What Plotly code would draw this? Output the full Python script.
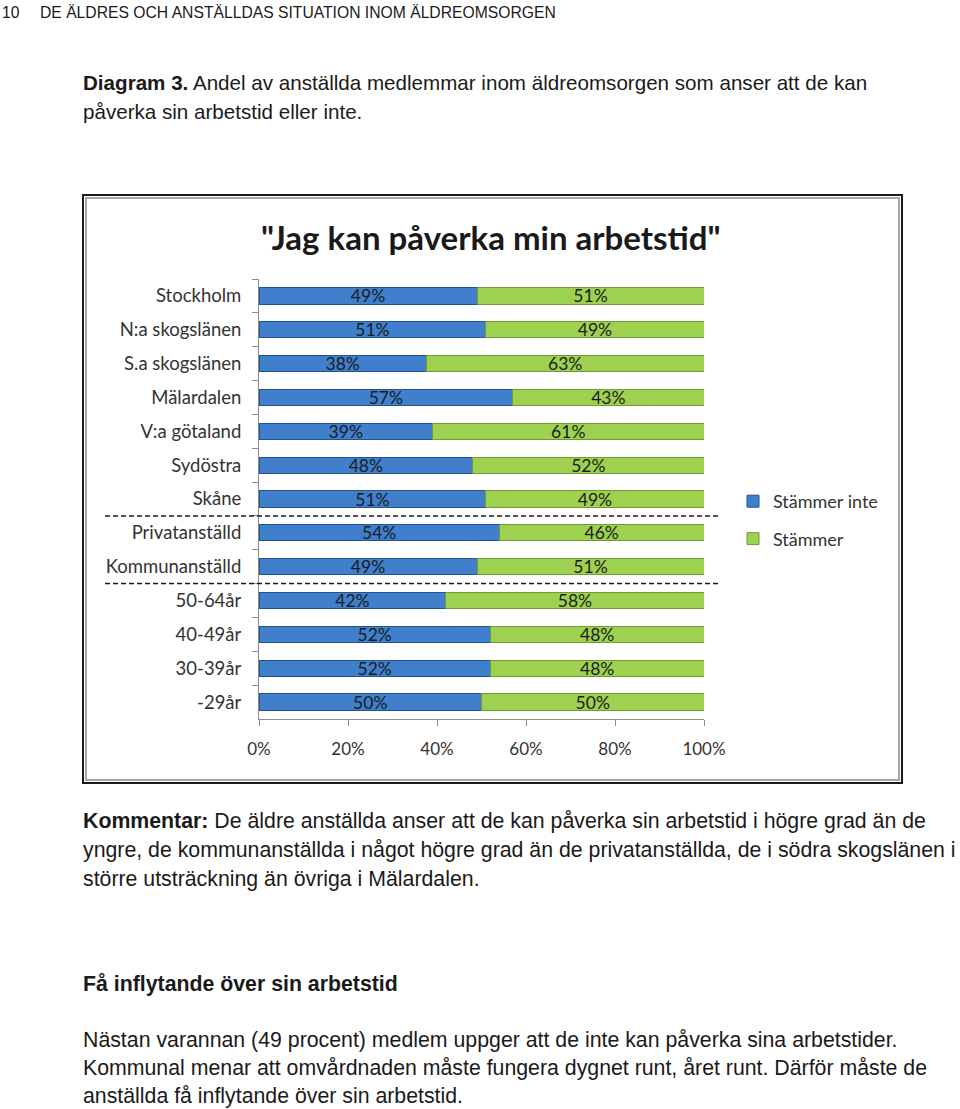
import plotly.graph_objects as go

categories = ["Stockholm", "N:a skogslänen", "S.a skogslänen", "Mälardalen", "V:a götaland",
              "Sydöstra", "Skåne", "Privatanställd", "Kommunanställd", "50-64år",
              "40-49år", "30-39år", "-29år"]
stammer_inte = [49, 51, 38, 57, 39, 48, 51, 54, 49, 42, 52, 52, 50]
stammer = [51, 49, 63, 43, 61, 52, 49, 46, 51, 58, 48, 48, 50]
x_ticks = [0, 20, 40, 60, 80, 100]
x_tick_labels = ["0%", "20%", "40%", "60%", "80%", "100%"]

W, H = 960, 1109
CHART_FONT = "Lato, Carlito, Calibri, sans-serif"
PAGE_FONT = "Liberation Sans, Arial, Helvetica, sans-serif"


def px(x):
    return x / W


def py(y):
    return 1 - y / H


fig = go.Figure()
fig.add_trace(go.Bar(
    y=categories, x=stammer_inte, orientation="h", name="Stämmer inte",
    legendgroup="a",
    marker=dict(color="#3f7fcb", line=dict(color="#24548c", width=1)),
    text=[f"{v}%" for v in stammer_inte], textposition="inside",
    insidetextanchor="middle", constraintext="none",
    textfont=dict(family=CHART_FONT, size=17.5, color="#1c1c1c"),
    cliponaxis=False,
))
fig.add_trace(go.Bar(
    y=categories, x=stammer, orientation="h", name="Stämmer",
    legendgroup="b",
    marker=dict(color="#9ed150", line=dict(color="#6f9a34", width=1)),
    text=[f"{v}%" for v in stammer], textposition="inside",
    insidetextanchor="middle", constraintext="none",
    textfont=dict(family=CHART_FONT, size=17.5, color="#1c1c1c"),
    cliponaxis=False,
))

fig.update_layout(
    width=W, height=H,
    margin=dict(l=0, r=0, t=0, b=0, pad=0, autoexpand=False),
    paper_bgcolor="white", plot_bgcolor="white",
    barmode="stack", barnorm="percent", bargap=0.52,
    showlegend=True,
    legend=dict(
        x=px(733), y=py(483), xanchor="left", yanchor="top",
        traceorder="grouped", tracegroupgap=11,
        font=dict(family=CHART_FONT, size=18, color="#333333"),
        bgcolor="rgba(0,0,0,0)",
    ),
    font=dict(family=CHART_FONT, color="#333333"),
    xaxis=dict(
        domain=[px(259), px(704)], range=[0, 100], automargin=False,
        tickvals=x_ticks, ticktext=x_tick_labels,
        showgrid=False, zeroline=False,
        showline=True, linecolor="#8c8c8c", linewidth=1,
        ticks="outside", ticklen=6, tickcolor="#8c8c8c",
        ticklabelstandoff=9,
        tickfont=dict(family=CHART_FONT, size=17, color="#333333"),
    ),
    yaxis=dict(
        domain=[py(719), py(279)], automargin=False,
        categoryorder="array", categoryarray=categories,
        autorange="reversed",
        showgrid=False, zeroline=False,
        showline=True, linecolor="#8c8c8c", linewidth=1,
        ticks="outside", ticklen=6, tickcolor="#8c8c8c", tickson="boundaries",
        ticklabelstandoff=13,
        tickfont=dict(family=CHART_FONT, size=18.5, color="#333333"),
    ),
)

shapes = [
    # chart frame
    dict(type="rect", xref="paper", yref="paper", x0=px(83), x1=px(902), y0=py(783), y1=py(195),
         line=dict(color="#1a1a1a", width=2), fillcolor="rgba(0,0,0,0)", layer="below"),
    dict(type="rect", xref="paper", yref="paper", x0=px(86), x1=px(899), y0=py(780), y1=py(198),
         line=dict(color="#a6a6a6", width=2), fillcolor="rgba(0,0,0,0)", layer="below"),
    # group separators
    dict(type="line", xref="paper", yref="y", x0=px(105), x1=px(718), y0=6.5, y1=6.5,
         line=dict(color="#1a1a1a", width=1.5, dash="5px,3px")),
    dict(type="line", xref="paper", yref="y", x0=px(105), x1=px(718), y0=8.5, y1=8.5,
         line=dict(color="#1a1a1a", width=1.5, dash="5px,3px")),
]
fig.update_layout(shapes=shapes)

BODY = dict(family=PAGE_FONT, size=21.3, color="#1a1a1a")
annotations = [
    dict(text="<b>\"Jag kan påverka min arbetstid\"</b>", x=px(491), y=py(237),
         font=dict(family=CHART_FONT, size=33, color="#1a1a1a"), xanchor="center"),
    dict(text="10", x=px(0), y=py(12), font=dict(family=PAGE_FONT, size=15.7, color="#1a1a1a")),
    dict(text="DE ÄLDRES OCH ANSTÄLLDAS SITUATION INOM ÄLDREOMSORGEN", x=px(38), y=py(12),
         font=dict(family=PAGE_FONT, size=15.7, color="#1a1a1a")),
    dict(text="<b>Diagram 3.</b> Andel av anställda medlemmar inom äldreomsorgen som anser att de kan",
         x=px(81), y=py(83), font=dict(family=PAGE_FONT, size=20.6, color="#1a1a1a")),
    dict(text="påverka sin arbetstid eller inte.", x=px(81), y=py(112),
         font=dict(family=PAGE_FONT, size=20.6, color="#1a1a1a")),
    dict(text="<b>Kommentar:</b> De äldre anställda anser att de kan påverka sin arbetstid i högre grad än de",
         x=px(81), y=py(821), font=BODY),
    dict(text="yngre, de kommunanställda i något högre grad än de privatanställda, de i södra skogslänen i",
         x=px(81), y=py(850), font=BODY),
    dict(text="större utsträckning än övriga i Mälardalen.",
         x=px(81), y=py(879), font=BODY),
    dict(text="<b>Få inflytande över sin arbetstid</b>",
         x=px(81), y=py(984), font=BODY),
    dict(text="Nästan varannan (49 procent) medlem uppger att de inte kan påverka sina arbetstider.",
         x=px(81), y=py(1040), font=BODY),
    dict(text="Kommunal menar att omvårdnaden måste fungera dygnet runt, året runt. Därför måste de",
         x=px(81), y=py(1068), font=BODY),
    dict(text="anställda få inflytande över sin arbetstid.",
         x=px(81), y=py(1096), font=BODY),
]
for a in annotations:
    a.setdefault("xanchor", "left")
    a.update(xref="paper", yref="paper", yanchor="middle", showarrow=False)
fig.update_layout(annotations=annotations)

fig.write_html(
    "out.html",
    config={"displayModeBar": False},
    post_script="document.body.style.margin='0';document.body.style.overflow='hidden';",
)
